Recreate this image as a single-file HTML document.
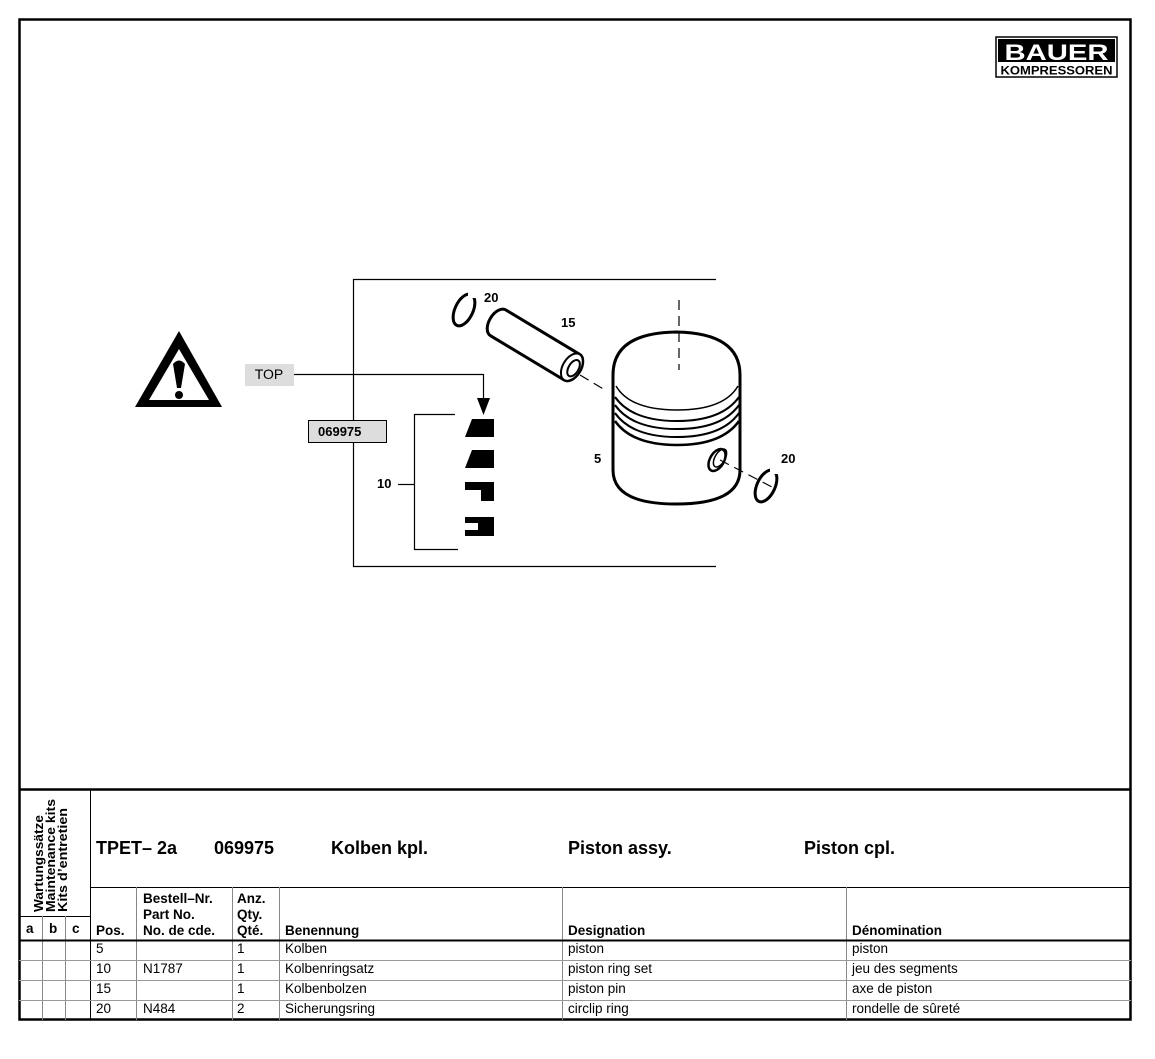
<!DOCTYPE html>
<html><head><meta charset="utf-8"><style>
html,body{margin:0;padding:0;background:#fff;}
svg{display:block;font-family:"Liberation Sans",Arial,sans-serif;}
</style></head><body>
<svg width="1155" height="1059" viewBox="0 0 1155 1059" xmlns="http://www.w3.org/2000/svg">
<rect x="0" y="0" width="1155" height="1059" fill="#fff"/>
<rect x="19.5" y="19.5" width="1111" height="1000" fill="none" stroke="#000" stroke-width="2.5"/>
<!-- logo -->
<rect x="996" y="37" width="121" height="40" fill="#fff" stroke="#000" stroke-width="1.5"/>
<rect x="998" y="39" width="117" height="23" fill="#000"/>
<text x="1056.5" y="60" text-anchor="middle" font-size="22" font-weight="bold" fill="#fff" textLength="104" lengthAdjust="spacingAndGlyphs">BAUER</text>
<text x="1056.5" y="74.5" text-anchor="middle" font-size="11.5" font-weight="bold" fill="#000" textLength="112" lengthAdjust="spacingAndGlyphs">KOMPRESSOREN</text>

<!-- warning triangle -->
<polygon points="179,331 135,407 222,407" fill="#000"/>
<polygon points="179,349 149,400 209,400" fill="#fff"/>
<path d="M173,364 Q179,357 185,364 L181,388 L177,388 Z" fill="#000"/>
<circle cx="179" cy="395" r="4" fill="#000"/>

<!-- drawing frame -->
<polyline points="716,279.5 353.5,279.5 353.5,566.5 716,566.5" fill="none" stroke="#000" stroke-width="1.2"/>
<rect x="245" y="364" width="49" height="22" fill="#ddd"/>
<text x="269" y="379" text-anchor="middle" font-size="14">TOP</text>
<polyline points="294,374.5 483.5,374.5 483.5,400" fill="none" stroke="#000" stroke-width="1.2"/>
<polygon points="477,398 490,398 483.5,415" fill="#000"/>
<rect x="308.5" y="420.5" width="78" height="22" fill="#ddd" stroke="#000" stroke-width="1"/>
<text x="318" y="436" font-size="13" font-weight="bold">069975</text>

<polyline points="455,414.5 414.5,414.5 414.5,549.5 458,549.5" fill="none" stroke="#000" stroke-width="1.2"/>
<line x1="398" y1="484.5" x2="414" y2="484.5" stroke="#000" stroke-width="1.2"/>
<text x="377" y="488" font-size="13" font-weight="bold">10</text>
<polygon points="472,419 494,419 494,437 465,437" fill="#000"/>
<polygon points="472,450 494,450 494,468 465,468" fill="#000"/>
<polygon points="465,482 494,482 494,501 481,501 481,490 465,490" fill="#000"/>
<path d="M465,517 L494,517 L494,536 L465,536 L465,530 L478,530 L478,523 L465,523 Z" fill="#000"/>

<!-- circlip top -->
<ellipse cx="464" cy="310" rx="9" ry="17" transform="rotate(25 464 310)" fill="none" stroke="#000" stroke-width="3"/>
<rect x="468" y="290" width="8" height="8" fill="#fff"/>
<text x="484" y="302" font-size="13" font-weight="bold">20</text>
<!-- pin 15 -->
<g transform="rotate(31 535 345)">
<path d="M492,330 L578,330 A9,15 0 0 1 578,360 L492,360 A9,15 0 0 1 492,330 Z" fill="#fff" stroke="#000" stroke-width="3"/>
<ellipse cx="578" cy="345" rx="9" ry="15" fill="#fff" stroke="#000" stroke-width="2"/>
<ellipse cx="580" cy="345" rx="5" ry="9" fill="#fff" stroke="#000" stroke-width="2"/>
</g>
<text x="561" y="327" font-size="13" font-weight="bold">15</text>
<line x1="580" y1="375" x2="605" y2="390" stroke="#000" stroke-width="1.2" stroke-dasharray="10,6"/>

<!-- piston 5 -->
<path d="M613,375 Q613,333 676,332 Q740,333 740,375 L740,470 Q740,504 676,504 Q613,504 613,470 Z" fill="#fff" stroke="#000" stroke-width="3"/>
<path d="M616,386 Q630,410 677,410 Q724,410 738,386" fill="none" stroke="#000" stroke-width="1.5"/>
<path d="M615,397 Q632,421 677,421 Q722,421 739,397" fill="none" stroke="#000" stroke-width="2"/>
<path d="M615,405 Q632,429 677,429 Q722,429 739,405" fill="none" stroke="#000" stroke-width="2"/>
<path d="M615,413 Q632,437 677,437 Q722,437 739,413" fill="none" stroke="#000" stroke-width="2"/>
<path d="M615,421 Q632,445 677,445 Q722,445 739,421" fill="none" stroke="#000" stroke-width="2.5"/>
<line x1="679" y1="300" x2="679" y2="370" stroke="#000" stroke-width="1.2" stroke-dasharray="10,6"/>
<ellipse cx="717" cy="460" rx="7" ry="12" transform="rotate(30 717 460)" fill="#fff" stroke="#000" stroke-width="2.5"/>
<ellipse cx="720" cy="458" rx="5" ry="10" transform="rotate(30 720 458)" fill="none" stroke="#000" stroke-width="1.5"/>
<line x1="720" y1="460" x2="772" y2="487" stroke="#000" stroke-width="1.2" stroke-dasharray="10,6"/>
<text x="594" y="463" font-size="13" font-weight="bold">5</text>
<ellipse cx="766" cy="486" rx="9" ry="17" transform="rotate(25 766 486)" fill="none" stroke="#000" stroke-width="3"/>
<rect x="770" y="466" width="8" height="8" fill="#fff"/>
<text x="781" y="463" font-size="13" font-weight="bold">20</text>

<!-- table -->
<line x1="19" y1="789.5" x2="1131" y2="789.5" stroke="#000" stroke-width="2.5"/>
<line x1="90.5" y1="789" x2="90.5" y2="1020" stroke="#000" stroke-width="1"/>
<line x1="90" y1="887.5" x2="1131" y2="887.5" stroke="#000" stroke-width="1"/>
<line x1="19" y1="916.5" x2="90" y2="916.5" stroke="#000" stroke-width="1"/>
<line x1="42.5" y1="916" x2="42.5" y2="1020" stroke="#888" stroke-width="1"/>
<line x1="65.5" y1="916" x2="65.5" y2="1020" stroke="#888" stroke-width="1"/>
<line x1="136.5" y1="887" x2="136.5" y2="1020" stroke="#888" stroke-width="1"/>
<line x1="232.5" y1="887" x2="232.5" y2="1020" stroke="#888" stroke-width="1"/>
<line x1="279.5" y1="887" x2="279.5" y2="1020" stroke="#888" stroke-width="1"/>
<line x1="562.5" y1="887" x2="562.5" y2="1020" stroke="#888" stroke-width="1"/>
<line x1="846.5" y1="887" x2="846.5" y2="1020" stroke="#888" stroke-width="1"/>
<line x1="19" y1="940.5" x2="1131" y2="940.5" stroke="#000" stroke-width="2"/>
<line x1="19" y1="960.5" x2="1131" y2="960.5" stroke="#999" stroke-width="1"/>
<line x1="19" y1="980.5" x2="1131" y2="980.5" stroke="#999" stroke-width="1"/>
<line x1="19" y1="1000.5" x2="1131" y2="1000.5" stroke="#999" stroke-width="1"/>

<g font-size="13" font-weight="bold">
<text transform="translate(43 912) rotate(-90)" textLength="97" lengthAdjust="spacingAndGlyphs">Wartungssätze</text>
<text transform="translate(55 912) rotate(-90)" textLength="113" lengthAdjust="spacingAndGlyphs">Maintenance kits</text>
<text transform="translate(67 912) rotate(-90)" textLength="104" lengthAdjust="spacingAndGlyphs">Kits d’entretien</text>
</g>
<g font-size="18" font-weight="bold">
<text x="96" y="854">TPET– 2a</text>
<text x="214" y="854">069975</text>
<text x="331" y="854">Kolben kpl.</text>
<text x="568" y="854">Piston assy.</text>
<text x="804" y="854">Piston cpl.</text>
</g>
<g font-size="13.5" font-weight="bold">
<text x="26" y="933">a</text><text x="49" y="933">b</text><text x="72" y="933">c</text>
<text x="96" y="935">Pos.</text>
<text x="143" y="903">Bestell–Nr.</text>
<text x="143" y="919">Part No.</text>
<text x="143" y="935">No. de cde.</text>
<text x="237" y="903">Anz.</text>
<text x="237" y="919">Qty.</text>
<text x="237" y="935">Qté.</text>
<text x="285" y="935">Benennung</text>
<text x="568" y="935">Designation</text>
<text x="852" y="935">Dénomination</text>
</g>
<g font-size="13.5">
<text x="96" y="953">5</text><text x="237" y="953">1</text><text x="285" y="953">Kolben</text><text x="568" y="953">piston</text><text x="852" y="953">piston</text>
<text x="96" y="973">10</text><text x="143" y="973">N1787</text><text x="237" y="973">1</text><text x="285" y="973">Kolbenringsatz</text><text x="568" y="973">piston ring set</text><text x="852" y="973">jeu des segments</text>
<text x="96" y="993">15</text><text x="237" y="993">1</text><text x="285" y="993">Kolbenbolzen</text><text x="568" y="993">piston pin</text><text x="852" y="993">axe de piston</text>
<text x="96" y="1013">20</text><text x="143" y="1013">N484</text><text x="237" y="1013">2</text><text x="285" y="1013">Sicherungsring</text><text x="568" y="1013">circlip ring</text><text x="852" y="1013">rondelle de sûreté</text>
</g>
</svg>
</body></html>
